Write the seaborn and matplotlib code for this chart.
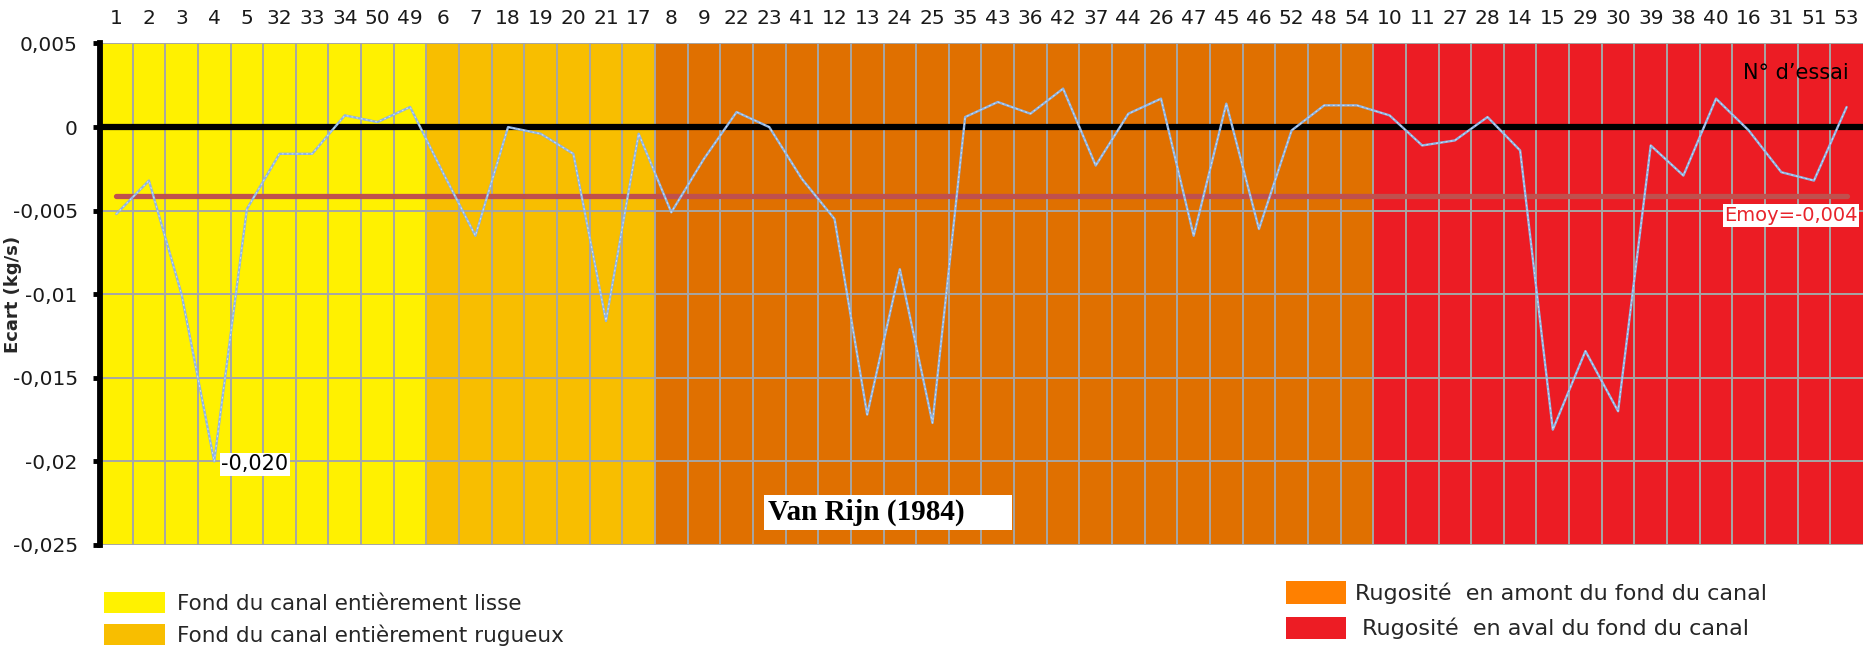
import numpy as np
import pandas as pd
import matplotlib
matplotlib.use("Agg")
import matplotlib.pyplot as plt
from matplotlib.patches import Patch
import seaborn as sns

# Trial numbers, in the order they appear along the top axis
trial_labels = ["1", "2", "3", "4", "5", "32", "33", "34", "50", "49",
                "6", "7", "18", "19", "20", "21", "17",
                "8", "9", "22", "23", "41", "12", "13", "24", "25", "35", "43",
                "36", "42", "37", "44", "26", "47", "45", "46", "52", "48", "54",
                "10", "11", "27", "28", "14", "15", "29", "30", "39", "38", "40",
                "16", "31", "51", "53"]

# Ecart (kg/s) for each trial
ecart = [-0.0052, -0.0032, -0.0100, -0.0200, -0.0049, -0.0016, -0.0016, 0.0007, 0.0003, 0.0012,
         -0.0027, -0.0065, 0.0000, -0.0004, -0.0016, -0.0116, -0.0004,
         -0.0051, -0.0019, 0.0009, 0.0000, -0.0031, -0.0055, -0.0172, -0.0085, -0.0177, 0.0006,
         0.0015, 0.0008, 0.0023, -0.0023, 0.0008, 0.0017, -0.0065, 0.0014, -0.0061, -0.0002,
         0.0013, 0.0013,
         0.0007, -0.0011, -0.0008, 0.0006, -0.0014, -0.0181, -0.0134, -0.0170, -0.0011, -0.0029,
         0.0017, -0.0002, -0.0027, -0.0032, 0.0012]

emoy = -0.0041
emoy_label = "Emoy=-0,004"

# bed configurations (number of trials in each)
group_names = ["Fond du canal entièrement lisse",
               "Fond du canal entièrement rugueux",
               "Rugosité  en amont du fond du canal",
               " Rugosité  en aval du fond du canal"]
group_sizes = [10, 7, 22, 15]
band_colors = ["#FFF100", "#F8BE00", "#E07000", "#EC1C24"]
legend_colors = ["#FFF200", "#F8BE00", "#FF8000", "#ED1C24"]

y_ticks = [0.005, 0, -0.005, -0.01, -0.015, -0.02, -0.025]
y_ticklabels = ["0,005", "0", "-0,005", "-0,01", "-0,015", "-0,02", "-0,025"]

sns.set_style("white")
plt.rcParams["font.family"] = ["DejaVu Sans"]

n = len(trial_labels)
df = pd.DataFrame({"pos": np.arange(n), "essai": trial_labels, "ecart": ecart})
df["emoy"] = emoy

fig = plt.figure(figsize=(18.65, 6.57), dpi=100)
ax = fig.add_axes([0.0536, 0.1705, 0.9453, 0.7633])

# coloured background per configuration
start = -0.5
for size, color in zip(group_sizes, band_colors):
    ax.axvspan(start, start + size, color=color, lw=0, zorder=0)
    start += size

# grid
ax.set_axisbelow(True)
ax.set_xticks(np.arange(0.5, n - 1, 1), minor=True)
ax.grid(False)
ax.xaxis.grid(True, which="minor", color="#A6A6A6", lw=1.4)
ax.yaxis.grid(True, which="major", color="#A6A6A6", lw=1.4)

ax.axhline(0, color="black", lw=4.5, zorder=3)

# mean line and data
sns.lineplot(data=df, x="pos", y="emoy", ax=ax, color="#C0504D", lw=3.8, zorder=3)
sns.lineplot(data=df, x="pos", y="ecart", ax=ax, color="#8EB4E3", lw=1.7, zorder=4)
ax.plot(df["pos"], df["ecart"], color="white", lw=0.7, ls=(0, (2, 3)), alpha=0.6, zorder=5)

ax.set_xlim(-0.5, n - 0.5)
ax.set_ylim(-0.025, 0.005)

# top category axis
ax.xaxis.tick_top()
ax.set_xticks(range(n))
ax.set_xticklabels(trial_labels, fontsize=14.5, color="#1a1a1a")
ax.tick_params(axis="x", which="both", length=0, pad=11)
ax.set_xlabel("")

ax.set_yticks(y_ticks)
ax.set_yticklabels(y_ticklabels, fontsize=14.5, color="#1a1a1a")
ax.tick_params(axis="y", direction="out", length=5, width=3.5, color="black", pad=11, left=True)
ax.set_ylabel("Ecart (kg/s)", fontsize=13, fontweight="bold")
ax.yaxis.set_label_coords(-0.0442, 0.5005)

for side in ["top", "right", "bottom"]:
    ax.spines[side].set_visible(False)
ax.spines["left"].set_color("black")
ax.spines["left"].set_linewidth(4.2)

# annotations
imin = int(np.argmin(ecart))
ax.annotate(f"{ecart[imin]:.3f}".replace(".", ","), xy=(imin, ecart[imin]),
            xytext=(5, -2), textcoords="offset points", ha="left", va="center",
            fontsize=15, color="black", zorder=6,
            bbox=dict(boxstyle="square,pad=0.08", fc="white", ec="none"))
ax.text(53.34, -0.00529, emoy_label, ha="right", va="center", fontsize=14,
        color="#E8242C", zorder=6, bbox=dict(boxstyle="square,pad=0.08", fc="white", ec="none"))
ax.text(49.82, 0.00324, "N° d’essai", ha="left", va="center", fontsize=15, color="black", zorder=6)
ax.text(19.96, -0.02306, "Van Rijn (1984)      ", ha="left", va="center", fontsize=21,
        fontweight="bold", family="Liberation Serif", color="black", zorder=6,
        bbox=dict(boxstyle="square,pad=0.12", fc="white", ec="none"))

# legends
handles = [Patch(facecolor=c, edgecolor="none", label=l) for c, l in zip(legend_colors, group_names)]
fig.legend(handles=handles[:2], loc="upper left", bbox_to_anchor=(0.0558, 0.0982),
           frameon=False, fontsize=15.5, handlelength=2.85, handleheight=1.07,
           handletextpad=0.56, labelspacing=0.48, borderpad=0, borderaxespad=0)
fig.legend(handles=handles[2:], loc="upper left", bbox_to_anchor=(0.6895, 0.115),
           frameon=False, fontsize=16, handlelength=2.7, handleheight=1.2,
           handletextpad=0.4, labelspacing=0.55, borderpad=0, borderaxespad=0)

fig.savefig("out.png", dpi=100)
